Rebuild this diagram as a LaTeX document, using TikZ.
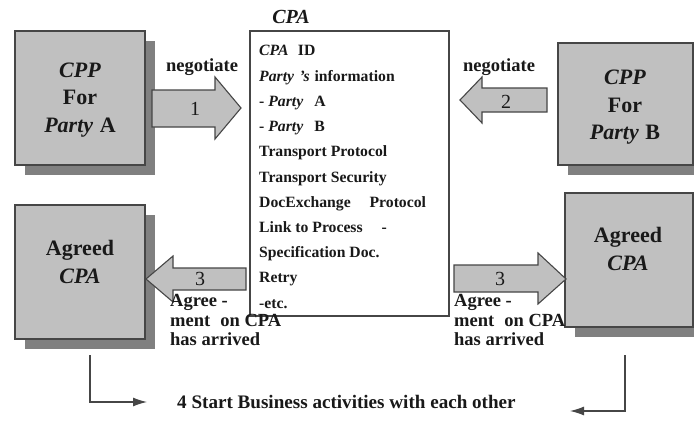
\documentclass[tikz,border=0pt]{standalone}
\usepackage{fontspec}
\setmainfont{Liberation Serif}
\usetikzlibrary{shadows,arrows.meta}
\definecolor{boxgray}{RGB}{192,192,192}
\definecolor{shadowgray}{RGB}{128,128,128}
\definecolor{edgegray}{RGB}{70,70,70}
\definecolor{inkgray}{RGB}{25,25,25}
\begin{document}
\begin{tikzpicture}[x=1pt,y=-1pt,
  bigbox/.style={draw=edgegray, line width=1.2pt, fill=boxgray, inner sep=0pt,
    drop shadow={shadow xshift=10pt, shadow yshift=-10pt, fill=shadowgray, opacity=1}},
  boxtxt/.style={align=center, inner sep=0pt, text=inkgray, font=\bfseries\fontsize{22}{27.5}\selectfont},
  cpabox/.style={draw=edgegray, line width=1.1pt, fill=white, inner sep=0pt},
  listtxt/.style={anchor=base west, inner sep=0pt, text=inkgray, font=\bfseries\fontsize{15.7}{18}\selectfont},
  blockarrow/.style={draw=edgegray, line width=1.1pt, fill=boxgray, line join=miter},
  numtxt/.style={inner sep=0pt, text=inkgray, font=\fontsize{20}{22}\selectfont},
  lbltxt/.style={inner sep=0pt, text=inkgray, font=\bfseries\fontsize{18.5}{22}\selectfont},
  notetxt/.style={anchor=west, align=left, inner sep=0pt, text=inkgray, font=\bfseries\fontsize{18.5}{19.5}\selectfont},
  conn/.style={draw=edgegray, line width=1.2pt, -{Latex[length=14pt,width=9pt]}}
]
\useasboundingbox[fill=white] (0,0) rectangle (694,423);

% boxes
\node[bigbox, minimum width=130pt, minimum height=134pt] (cppA) at (80,98) {};
\node[boxtxt] (cppAtxt) at (80,100) {\textit{CPP}\\For\\\textit{Party}\hspace{0.3em}A};

\node[bigbox, minimum width=135pt, minimum height=122pt] (cppB) at (625.5,104) {};
\node[boxtxt] (cppBtxt) at (625,107.5) {\textit{CPP}\\For\\\textit{Party}\hspace{0.3em}B};

\node[bigbox, minimum width=130pt, minimum height=134pt] (agrA) at (80,272) {};
\node[boxtxt] (agrAtxt) at (80,262) {Agreed\\\textit{CPA}};

\node[bigbox, minimum width=128pt, minimum height=134pt] (agrB) at (629,260) {};
\node[boxtxt] (agrBtxt) at (628,249) {Agreed\\\textit{CPA}};

% CPA box
\node[font=\bfseries\itshape\fontsize{20}{22}\selectfont, text=inkgray, inner sep=0pt] (cpatitle) at (291,17) {CPA};
\node[cpabox, minimum width=199pt, minimum height=285pt] (cpa) at (349.5,173.5) {};
\foreach \t [count=\i] in {
  {\textit{CPA}\hspace{0.6em}ID},
  {\textit{Party}\hspace{0.35em}\textit{’s}\hspace{0.3em}information},
  {- \textit{Party}\hspace{0.7em}A},
  {- \textit{Party}\hspace{0.7em}B},
  {Transport Protocol},
  {Transport Security},
  {DocExchange\hspace{1.2em}Protocol},
  {Link to Process\hspace{1.2em}-},
  {Specification Doc.},
  {Retry},
  {-etc.}}
  \node[listtxt] (line\i) at (259,30.8+25.2*\i) {\t};

% block arrows
\draw[blockarrow] (152,90) -- (215,90) -- (215,77) -- (241,108) -- (215,139) -- (215,127) -- (152,127) -- cycle;
\node[numtxt] (n1) at (195,109) {1};
\node[lbltxt] (neg1) at (202,67) {negotiate};

\draw[blockarrow] (547,88) -- (482,88) -- (482,77) -- (460,100) -- (482,123) -- (482,112) -- (547,112) -- cycle;
\node[numtxt] (n2) at (506,102) {2};
\node[lbltxt] (neg2) at (499,67) {negotiate};

\draw[blockarrow] (246,268) -- (173,268) -- (173,256) -- (146,279) -- (173,302) -- (173,290) -- (246,290) -- cycle;
\node[numtxt] (n3a) at (200,279) {3};

\draw[blockarrow] (454,265) -- (538,265) -- (538,253) -- (566,279) -- (538,304) -- (538,292) -- (454,292) -- cycle;
\node[numtxt] (n3b) at (500,278.5) {3};

% notes
\node[notetxt] (noteA) at (170,320) {Agree -\\ment\hspace{0.3em} on CPA\\has arrived};
\node[notetxt] (noteB) at (454,320) {Agree -\\ment\hspace{0.3em} on CPA\\has arrived};

% bottom
\node[lbltxt, anchor=west, font=\bfseries\fontsize{19.1}{22}\selectfont] (start) at (177,402) {4 Start Business activities with each other};
\coordinate (l0) at (90,355);
\coordinate (l1) at (147,402);
\draw[conn] (l0) |- (l1);
\coordinate (r0) at (625,355);
\coordinate (r1) at (570,411);
\draw[conn] (r0) |- (r1);
\end{tikzpicture}
\end{document}
